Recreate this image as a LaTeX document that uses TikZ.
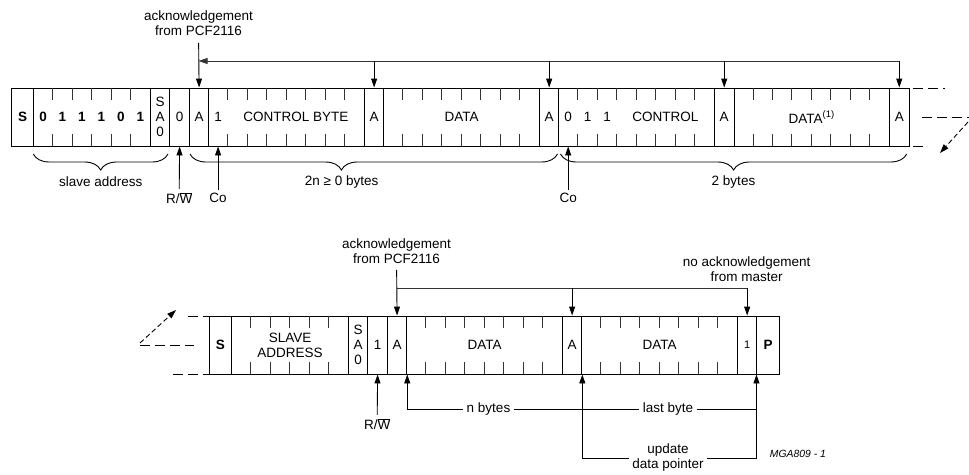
\documentclass[tikz,border=0pt]{standalone}
\usepackage{fontspec}
\setmainfont{Liberation Sans}
\usetikzlibrary{arrows.meta,calc,decorations.pathreplacing}

\begin{document}
\begin{tikzpicture}[x=1pt, y=-1pt,
        font=\fontsize{13.5}{15}\selectfont,
        field/.style={draw, line width=0.9pt, minimum height=58pt, inner sep=0pt, anchor=west, align=center},
        tick/.style={line width=0.9pt, black!80},
        bus/.style={line width=0.9pt, black!80},
        ptr/.style={line width=0.9pt, -{Triangle[length=9pt,width=6pt]}},
        ext/.style={line width=0.9pt, dash pattern=on 10pt off 5pt},
        extarrow/.style={line width=0.9pt, dash pattern=on 5pt off 3pt, -{Triangle[length=9pt,width=6pt]}},
        bracedown/.style={line width=0.9pt, decorate, decoration={brace, mirror, amplitude=16pt}}]
        \useasboundingbox (0,0) rectangle (969,474);

        % Top frame
        \node[field, minimum width=22.3pt] (S1) at (11,117) {\bfseries S};
        \node[field, minimum width=116.7pt] (addr) at (33.3,117) {};
        \foreach \b [count=\i] in {0,1,1,1,0,1}
            \node[font=\fontsize{13.5}{15}\bfseries] (adbit\i) at (33.3+\i*19.45-9.725,117) {\b};
        \node[field, minimum width=19.45pt] (sa0) at (150,117) {S\\A\\0};
        \node[field, minimum width=19.45pt] (rw1) at (169.45,117) {0};
        \node[field, minimum width=19.45pt] (ackA1) at (188.9,117) {A};
        \node[field, minimum width=155.6pt] (ctrl1) at (208.35,117) {};
        \node (cobit1) at (218.1,117) {1};
        \node (ctrltxt1) at (295.9,117) {CONTROL BYTE};
        \node[field, minimum width=19.45pt] (ackA2) at (363.95,117) {A};
        \node[field, minimum width=155.6pt] (data1) at (383.4,117) {DATA};
        \node[field, minimum width=19.45pt] (ackA3) at (539,117) {A};
        \node[field, minimum width=155.6pt] (ctrl2) at (558.45,117) {};
        \node (cobit2) at (568.2,117) {0};
        \node (cobit3) at (587.6,117) {1};
        \node (cobit4) at (607.1,117) {1};
        \node (ctrltxt2) at (665.4,117) {CONTROL};
        \node[field, minimum width=19.45pt] (ackA4) at (714.05,117) {A};
        \node[field, minimum width=155.6pt] (data2) at (733.5,117) {DATA\textsuperscript{(1)}};
        \node[field, minimum width=19.45pt] (ackA5) at (889.1,117) {A};

        % Bottom frame
        \node[field, minimum width=22.6pt] (S2) at (208.7,345) {\bfseries S};
        \node[field, minimum width=116.7pt] (saddr) at (231.3,345) {SLAVE\\ADDRESS};
        \node[field, minimum width=19.45pt] (sa0b) at (348,345) {S\\A\\0};
        \node[field, minimum width=19.45pt] (rw2) at (367.45,345) {1};
        \node[field, minimum width=19.45pt] (ackB1) at (386.9,345) {A};
        \node[field, minimum width=155.6pt] (dataB1) at (406.35,345) {DATA};
        \node[field, minimum width=19.45pt] (ackB2) at (561.95,345) {A};
        \node[field, minimum width=155.6pt] (dataB2) at (581.4,345) {DATA};
        \node[field, minimum width=19.45pt, font=\fontsize{11}{13}\selectfont] (nack) at (737,345) {1};
        \node[field, minimum width=22.6pt] (P) at (756.45,345) {\bfseries P};

        % Bit ticks
        \foreach \f/\n in {addr/5, ctrl1/7, data1/7, ctrl2/7, data2/7, saddr/5, dataB1/7, dataB2/7}
            \foreach \k in {1,...,\n} {
                \draw[tick] ($(\f.north west)+(\k*19.45,0)$) -- ++(0,12);
                \draw[tick] ($(\f.south west)+(\k*19.45,0)$) -- ++(0,-12);
            }

        % Continuation marks
        \draw[ext] (913,88) -- (945,88);
        \draw[ext] (922,117) -- (969,117);
        \draw[ext] (913,146) -- (928,146);
        \draw[extarrow] (968,122) -- (940,153);
        \draw[ext] (188,316) -- (208.7,316);
        \draw[ext] (140,345) -- (194,345);
        \draw[ext] (173,374) -- (208.7,374);
        \draw[extarrow] (140,343) -- (176,310);

        % Acknowledgements top
        \node[align=center] (ackTxt1) at (198.6,23) {acknowledgement\\from PCF2116};
        \coordinate (busT) at (198.6,61);
        \draw[ptr, shorten <=4pt] (ackTxt1.south) -- (ackA1.north);
        \draw[bus, ptr] (busT -| ackA5.north) -- (busT);
        \draw[ptr] (busT -| ackA5.north) -- (ackA5.north);
        \foreach \a in {ackA2, ackA3, ackA4}
            \draw[ptr] (busT -| \a.north) -- (\a.north);

        % Braces top
        \draw[bracedown] (33.3,154) -- (168,154);
        \draw[bracedown, decoration={aspect=0.412}] (190,154) -- (557.5,154);
        \draw[bracedown] (560.5,154) -- (906.7,154);
        \node (slaveTxt) at (100.7,182) {slave address};
        \node (bytesTxt1) at (341.7,182) {2n ≥ 0 bytes};
        \node (bytesTxt2) at (733.5,182) {2 bytes};

        % R/W and Co top
        \node (rwTxt1) at (179.2,198) {R/$\overline{\mbox{W}}$};
        \draw[ptr] (rwTxt1.north) -- (rw1.south);
        \node (coTxt1) at (218.1,198) {Co};
        \draw[ptr] (coTxt1.north) -- (coTxt1.north |- ctrl1.south);
        \node (coTxt2) at (568.2,198) {Co};
        \draw[ptr] (coTxt2.north) -- (coTxt2.north |- ctrl2.south);

        % Acknowledgements bottom
        \node[align=center] (ackTxt2) at (396.6,251) {acknowledgement\\from PCF2116};
        \node[align=center] (noackTxt) at (746.7,269) {no acknowledgement\\from master};
        \coordinate (busB) at (396.6,288);
        \draw[ptr, shorten <=3pt] (ackTxt2.south) -- (ackB1.north);
        \draw[bus] (busB) -- (busB -| nack.north);
        \draw[ptr] (busB -| ackB2.north) -- (ackB2.north);
        \draw[ptr] (busB -| nack.north) -- (nack.north);

        % R/W bottom
        \node (rwTxt2) at (377.2,424) {R/$\overline{\mbox{W}}$};
        \draw[ptr] (rwTxt2.north) -- (rw2.south);

        % Byte counts and data pointer
        \node (nbytes) at (488.5,409) {n bytes};
        \node (lastb) at (668,409) {last byte};
        \node[align=center] (upd) at (668,458) {update\\data pointer};
        \draw[ptr] (nbytes.west) -| (ackB1.south east);
        \draw (nbytes.east) -- (lastb.west);
        \draw (lastb.east) -- (lastb.east -| P.south west);
        \draw[ptr] (upd.west) -| (ackB2.south east);
        \draw[ptr] (upd.east) -| (P.south west);

        \node[font=\fontsize{10.4}{12}\itshape] (mga) at (798,454) {MGA809 - 1};
    \end{tikzpicture}
\end{document}
